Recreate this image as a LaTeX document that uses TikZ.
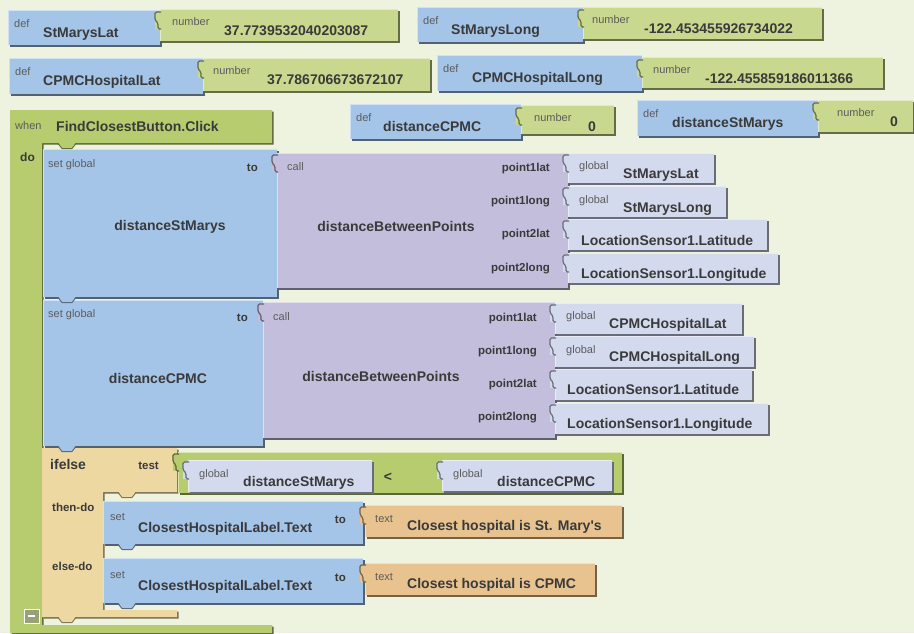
\documentclass[tikz,border=0pt]{standalone}
\usepackage{fontspec}
\setmainfont{Liberation Sans}

\definecolor{bgc}{HTML}{EEF3DF}
\definecolor{defblue}{HTML}{A4C4E8}
\definecolor{numgreen}{HTML}{C8D88E}
\definecolor{evgreen}{HTML}{B6CC6E}
\definecolor{callpurple}{HTML}{C3BEDC}
\definecolor{globlav}{HTML}{D4DAEE}
\definecolor{iftan}{HTML}{EDD8A2}
\definecolor{txtorange}{HTML}{E8C38F}
\definecolor{txt}{HTML}{3A3A3A}
\definecolor{tagc}{HTML}{5C5C5C}

\tikzset{
  lbl/.style={font=\fontsize{14}{16}\selectfont\bfseries, text=txt, inner sep=0pt, anchor=base west},
  tag/.style={font=\fontsize{11}{13}\selectfont, text=tagc, inner sep=0pt, anchor=base west},
  arg/.style={font=\fontsize{11.5}{13}\selectfont\bfseries, text=txt, inner sep=0pt, anchor=base east}
}

% block with shadow: x1 y1 x2 y2 colour
\newcommand{\blk}[5]{%
  \fill[#5!50!black] (#1+1.5,#2+1.5) rectangle (#3+1.5,#4+1.5);
  \fill[#5] (#1,#2) rectangle (#3,#4);
  \draw[white,opacity=.5,line width=.8] (#1+.5,#4) -- (#1+.5,#2+.5) -- (#3,#2+.5);}
% socket tab on the left of a plugged block
\newcommand{\plug}[3]{%
  \fill[#3] (#1+2,#2) -- (#1-5,#2) -- (#1-5,#2+17) -- (#1+2,#2+17) -- cycle;
  \draw[#3!50!black, line width=1.2, rounded corners=1.5] (#1+1,#2) -- (#1-5,#2) -- (#1-5,#2+8) -- (#1-2,#2+11) -- (#1-2,#2+17) -- (#1+1,#2+17);}
% statement tab under a block
\newcommand{\bump}[3]{%
  \fill[#3] (#1,#2-1) -- (#1+4,#2+5) -- (#1+14,#2+5) -- (#1+18,#2-1) -- cycle;
  \draw[#3!55!black, line width=1] (#1,#2+.5) -- (#1+4,#2+5.5) -- (#1+14,#2+5.5) -- (#1+18,#2+.5);}

\begin{document}
\begin{tikzpicture}[x=1pt,y=-1pt]
  \fill[bgc] (0,0) rectangle (914,633);
  \useasboundingbox (0,0) rectangle (914,633);

  % global definitions
  \blk{8}{10}{160}{45}{defblue}
  \blk{160}{9}{398}{41}{numgreen}
  \plug{160}{12}{numgreen}
  \blk{417}{7}{583}{42}{defblue}
  \blk{583}{7}{822}{39}{numgreen}
  \plug{583}{10}{numgreen}
  \blk{9}{58}{203}{94}{defblue}
  \blk{203}{58}{430}{91}{numgreen}
  \plug{203}{61}{numgreen}
  \blk{437}{55}{642}{91}{defblue}
  \blk{642}{57}{883}{88}{numgreen}
  \plug{642}{60}{numgreen}
  \blk{350}{104}{521}{139}{defblue}
  \blk{521}{105}{614}{134}{numgreen}
  \plug{521}{108}{numgreen}
  \blk{637}{100}{818}{136}{defblue}
  \blk{818}{100}{913}{132}{numgreen}
  \plug{818}{103}{numgreen}

  \node[tag] (d1) at (14,27) {def};
  \node[lbl] (smlat) at (43,37) {StMarysLat};
  \node[tag] (n1) at (172,25) {number};
  \node[lbl] (smlatv) at (224,35) {37.7739532040203087};
  \node[tag] (d2) at (423,24) {def};
  \node[lbl] (smlong) at (451,34) {StMarysLong};
  \node[tag] (n2) at (592,23) {number};
  \node[lbl] (smlongv) at (644,33) {-122.453455926734022};
  \node[tag] (d3) at (15,75) {def};
  \node[lbl] (cplat) at (43,85) {CPMCHospitalLat};
  \node[tag] (n3) at (213,74) {number};
  \node[lbl] (cplatv) at (267,84) {37.786706673672107};
  \node[tag] (d4) at (443,72) {def};
  \node[lbl] (cplong) at (472,82) {CPMCHospitalLong};
  \node[tag] (n4) at (653,73) {number};
  \node[lbl] (cplongv) at (705,83) {-122.455859186011366};
  \node[tag] (d5) at (356,121) {def};
  \node[lbl] (dcp) at (383,131) {distanceCPMC};
  \node[tag] (n5) at (534,121) {number};
  \node[lbl] (dcpv) at (588,131) {0};
  \node[tag] (d6) at (643,117) {def};
  \node[lbl] (dsm) at (672,127) {distanceStMarys};
  \node[tag] (n6) at (837,116) {number};
  \node[lbl] (dsmv) at (890,126) {0};

  % event block
  \fill[evgreen!50!black] (11.5,111.5) -- (273.5,111.5) -- (273.5,144.5) -- (43.5,144.5) -- (43.5,626.5) -- (273.5,626.5) -- (273.5,634.5) -- (11.5,634.5) -- cycle;
  \fill[evgreen] (10,110) -- (272,110) -- (272,143) -- (42,143) -- (42,625) -- (272,625) -- (272,633) -- (10,633) -- cycle;
  \node[tag] (when) at (15,129) {when};
  \node[lbl] (click) at (56,131) {FindClosestButton.Click};
  \node[lbl, font=\fontsize{12}{14}\selectfont\bfseries] (do) at (20,161) {do};

  % set distanceStMarys
  \blk{43}{149}{277}{297}{defblue}
  \bump{58}{143}{evgreen}
  \blk{277}{153}{568}{288}{callpurple}
  \plug{277}{155}{callpurple}
  \blk{568}{153}{714}{183}{globlav}
  \plug{568}{155}{globlav}
  \blk{568}{186}{726}{217}{globlav}
  \plug{568}{188}{globlav}
  \blk{568}{219}{767}{250}{globlav}
  \plug{568}{221}{globlav}
  \blk{568}{253}{778}{283}{globlav}
  \plug{568}{255}{globlav}
  \node[tag] (sg1) at (48,167) {set global};
  \node[arg] (to1) at (258,171) {to};
  \node[lbl, anchor=center] (setsm) at (170,227) {distanceStMarys};
  \node[tag] (call1) at (287,170) {call};
  \node[lbl, anchor=center] (dbp1) at (396,226) {distanceBetweenPoints};
  \node[arg] (p1a) at (550,171) {point1lat};
  \node[arg] (p1b) at (550,204) {point1long};
  \node[arg] (p1c) at (550,237) {point2lat};
  \node[arg] (p1d) at (550,271) {point2long};
  \node[tag] (g1a) at (579,169) {global};
  \node[lbl] (a1a) at (623,178) {StMarysLat};
  \node[tag] (g1b) at (579,203) {global};
  \node[lbl] (a1b) at (623,212) {StMarysLong};
  \node[lbl] (a1c) at (581,245) {LocationSensor1.Latitude};
  \node[lbl] (a1d) at (581,278) {LocationSensor1.Longitude};

  % set distanceCPMC
  \blk{43}{300}{263}{446}{defblue}
  \bump{58}{297}{defblue}
  \blk{263}{302}{555}{438}{callpurple}
  \plug{263}{304}{callpurple}
  \blk{555}{303}{742}{334}{globlav}
  \plug{555}{305}{globlav}
  \blk{555}{336}{754}{367}{globlav}
  \plug{555}{338}{globlav}
  \blk{555}{369}{752}{400}{globlav}
  \plug{555}{371}{globlav}
  \blk{555}{403}{768}{434}{globlav}
  \plug{555}{405}{globlav}
  \node[tag] (sg2) at (48,317) {set global};
  \node[arg] (to2) at (248,321) {to};
  \node[lbl, anchor=center] (setcp) at (158,378) {distanceCPMC};
  \node[tag] (call2) at (273,320) {call};
  \node[lbl, anchor=center] (dbp2) at (381,376) {distanceBetweenPoints};
  \node[arg] (p2a) at (537,321) {point1lat};
  \node[arg] (p2b) at (537,354) {point1long};
  \node[arg] (p2c) at (537,387) {point2lat};
  \node[arg] (p2d) at (537,420) {point2long};
  \node[tag] (g2a) at (566,319) {global};
  \node[lbl] (a2a) at (609,328) {CPMCHospitalLat};
  \node[tag] (g2b) at (566,353) {global};
  \node[lbl] (a2b) at (609,361) {CPMCHospitalLong};
  \node[lbl] (a2c) at (567,394) {LocationSensor1.Latitude};
  \node[lbl] (a2d) at (567,428) {LocationSensor1.Longitude};

  % ifelse
  \fill[iftan!50!black] (43.5,449.5) -- (178.5,449.5) -- (178.5,493.5) -- (104.5,493.5) -- (104.5,611.5) -- (178.5,611.5) -- (178.5,618.5) -- (43.5,618.5) -- cycle;
  \fill[iftan] (42,448) -- (177,448) -- (177,492) -- (103,492) -- (103,610) -- (177,610) -- (177,617) -- (42,617) -- cycle;
  \bump{58}{446}{defblue}
  \blk{178}{452}{622}{493}{evgreen}
  \plug{178}{454}{evgreen}
  \blk{188}{460}{372}{492}{globlav}
  \plug{188}{462}{globlav}
  \blk{442}{460}{612}{491}{globlav}
  \plug{442}{462}{globlav}
  \node[lbl] (ife) at (50,469) {ifelse};
  \node[arg] (test) at (159,469) {test};
  \node[arg, anchor=base west] (then) at (52,511) {then-do};
  \node[arg, anchor=base west] (else) at (52,570) {else-do};
  \node[tag] (g3a) at (199,477) {global};
  \node[lbl] (cmpa) at (243,486) {distanceStMarys};
  \node[lbl, anchor=center] (lt) at (388,477) {<};
  \node[tag] (g3b) at (453,477) {global};
  \node[lbl] (cmpb) at (497,486) {distanceCPMC};

  % then / else
  \blk{103}{501}{363}{544}{defblue}
  \bump{118}{492}{iftan}
  \blk{365}{505}{622}{537}{txtorange}
  \plug{365}{507}{txtorange}
  \blk{103}{558}{363}{603}{defblue}
  \bump{118}{544}{defblue}
  \blk{365}{563}{595}{595}{txtorange}
  \plug{365}{565}{txtorange}
  \bump{118}{603}{defblue}
  \bump{58}{617}{iftan}
  \node[tag] (set1) at (110,520) {set};
  \node[lbl] (lab1) at (138,532) {ClosestHospitalLabel.Text};
  \node[arg] (to3) at (346,523) {to};
  \node[tag] (t1) at (375,522) {text};
  \node[lbl] (msg1) at (407,530) {Closest hospital is St. Mary\textquotesingle s};
  \node[tag] (set2) at (110,578) {set};
  \node[lbl] (lab2) at (138,590) {ClosestHospitalLabel.Text};
  \node[arg] (to4) at (346,581) {to};
  \node[tag] (t2) at (375,580) {text};
  \node[lbl] (msg2) at (407,588) {Closest hospital is CPMC};

  % collapse box
  \fill[gray!55!evgreen] (24,609) rectangle (39,623);
  \draw[white] (24,609) rectangle (39,623);
  \draw[white, line width=1.5] (28,616) -- (35,616);
\end{tikzpicture}
\end{document}
